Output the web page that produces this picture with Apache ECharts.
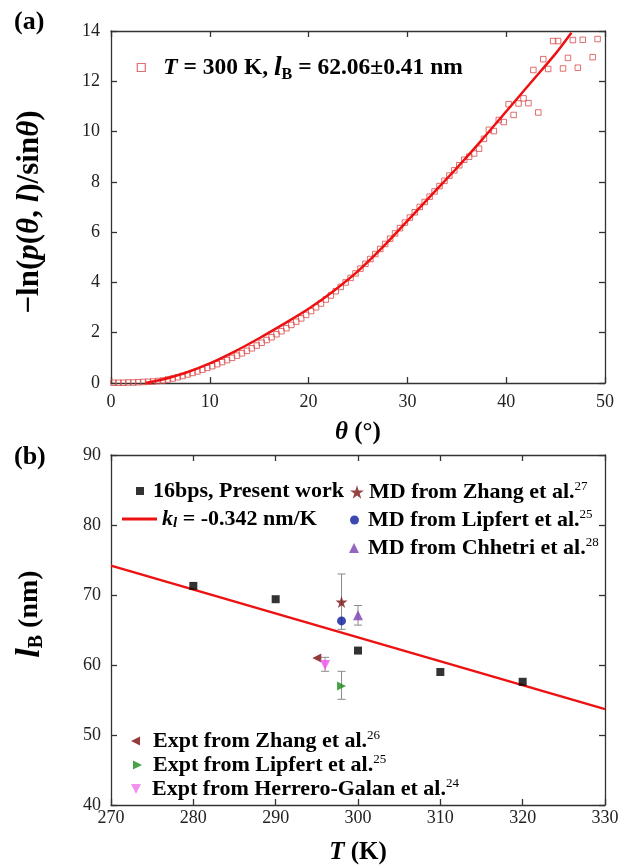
<!DOCTYPE html>
<html><head><meta charset="utf-8">
<script src="https://cdn.jsdelivr.net/npm/echarts@6/dist/echarts.min.js"></script>
<style>html,body{margin:0;padding:0;background:#fff}#c{width:621px;height:866px}</style>
</head><body><div id="c"></div>
<script>
// ---------- Panel (a) data ----------
const thetaA = [0.25,0.75,1.25,1.75,2.25,2.75,3.25,3.75,4.25,4.75,5.25,5.75,6.25,6.75,7.25,7.75,8.25,8.75,9.25,9.75,
  10.25,10.75,11.25,11.75,12.25,12.75,13.25,13.75,14.25,14.75,15.25,15.75,16.25,16.75,17.25,17.75,18.25,18.75,19.25,19.75,
  20.25,20.75,21.25,21.75,22.25,22.75,23.25,23.75,24.25,24.75,25.25,25.75,26.25,26.75,27.25,27.75,28.25,28.75,29.25,29.75,
  30.25,30.75,31.25,31.75,32.25,32.75,33.25,33.75,34.25,34.75,35.25,35.75,36.25,36.75,37.25,37.75,38.25,38.75,39.25,39.75,
  40.25,40.75,41.25,41.75,42.25,42.75,43.25,43.75,44.25,44.75,45.25,45.75,46.25,46.75,47.25,47.75,48.75,49.25];
const lnA = [0.01,0.01,0.01,0.02,0.02,0.03,0.04,0.05,0.06,0.08,0.10,0.14,0.18,0.23,0.28,0.34,0.40,0.46,0.53,0.60,
  0.67,0.75,0.83,0.91,1.00,1.09,1.18,1.28,1.38,1.49,1.60,1.71,1.82,1.94,2.06,2.18,2.31,2.44,2.57,2.71,
  2.86,3.01,3.16,3.32,3.48,3.65,3.82,4.00,4.18,4.36,4.55,4.74,4.93,5.13,5.33,5.53,5.74,5.95,6.16,6.38,
  6.58,6.79,7.00,7.20,7.41,7.62,7.83,8.04,8.25,8.46,8.66,8.88,9.00,9.13,9.32,9.71,10.07,10.02,10.46,10.38,
  11.09,10.66,11.12,11.32,11.13,12.45,10.76,12.88,12.49,13.60,13.60,12.51,12.93,13.64,12.54,13.65,12.96,13.68];
const fitThetaA = [3.5,5,7.5,10,12.5,15,17.5,20,22.5,25,27.5,30,32.5,35,37.5,40,42.5,45,46.6];
const fitValueA = [0,0.12,0.40,0.78,1.25,1.78,2.35,2.95,3.65,4.45,5.40,6.45,7.50,8.55,9.65,10.80,11.95,13.10,13.93];

// ---------- Panel (b) data ----------
const presentT = [280,290,300,310,320];
const presentLB = [71.3,69.4,62.06,59.0,57.6];
const fitLineT = [270,330];
const fitLineLB = [74.2,53.7];
const mdZhang = [[298,69.0]];
const mdLipfert = [[298,66.3]];
const mdChhetri = [[300,67.1]];
const exZhang = [[295,61.0]];
const exLipfert = [[298,57.0]];
const exHerrero = [[296,60.0]];
const errT = [298,300,298,296];
const errLow = [65.1,65.7,55.1,59.1];
const errHigh = [73.0,68.5,59.1,61.1];

const xTicksA = [0,50,10];
const yTicksA = [0,14,2];
const xTicksB = [270,330,10];
const yTicksB = [40,90,10];

const SERIF = 'Liberation Serif, Times New Roman, serif';
const zip = (a,b)=>a.map((v,i)=>[v,b[i]]);

const STAR = 'path://M50,0 L61.17,34.63 L97.55,34.55 L68.07,55.87 L79.39,90.45 L50,69 L20.61,90.45 L31.93,55.87 L2.45,34.55 L38.83,34.63 Z';
const TRI_UP = 'path://M5,0L10,10L0,10Z';
const TRI_LEFT = 'path://M0,5L10,0L10,10Z';
const TRI_RIGHT = 'path://M10,5L0,0L0,10Z';
const TRI_DOWN = 'path://M0,0L10,0L5,10Z';

const C = {
  sq:'#d84a4a', fit:'#ee1111', star:'#7a1515', circ:'#0d1a9c', purp:'#7b40b0',
  lt:'#7a0c0c', green:'#1b8a1b', mag:'#f050f0'
};

const axisLineStyle = {color:'#333', width:1.3};
function mkAxis(type, grid, range, pos, showLabel, margin){
  return {
    type:'value', gridIndex:grid, position:pos, min:range[0], max:range[1], interval:range[2],
    axisLine:{show:true, onZero:false, lineStyle:axisLineStyle},
    axisTick:{show:true, inside:true, length:6, lineStyle:axisLineStyle},
    axisLabel:{show:showLabel, fontFamily:SERIF, fontSize:18, color:'#222', margin:margin},
    splitLine:{show:false}
  };
}

const base = {fontFamily:SERIF, fontWeight:'bold', color:'#000'};
function rich(main, lh, big){
  return {
    n: Object.assign({}, base, {fontSize:main, lineHeight:lh}),
    i: Object.assign({}, base, {fontSize:main, lineHeight:lh, fontStyle:'italic'}),
    il: Object.assign({}, base, {fontSize:main+(big||4), lineHeight:lh, fontStyle:'italic'}),
    sub: Object.assign({}, base, {fontSize:Math.round(main*0.7), lineHeight:14, verticalAlign:'bottom'}),
    isub: Object.assign({}, base, {fontSize:Math.round(main*0.7), lineHeight:14, verticalAlign:'bottom', fontStyle:'italic'}),
    sup: Object.assign({}, base, {fontSize:Math.round(main*0.6), lineHeight:12, verticalAlign:'top', fontWeight:'normal'})
  };
}
const labelMap = {
  topA: '{i|T}{n| = 300 K, }{il|l}{sub|B}{n| = 62.06±0.41 nm}',
  present: '{n|16bps, Present work}',
  fitb: '{i|k}{isub|l}{n| = -0.342 nm/K}',
  mdz: '{n|MD from Zhang et al.}{sup|27}',
  mdl: '{n|MD from Lipfert et al.}{sup|25}',
  mdc: '{n|MD from Chhetri et al.}{sup|28}',
  exz: '{n|Expt from Zhang et al.}{sup|26}',
  exl: '{n|Expt from Lipfert et al.}{sup|25}',
  exh: '{n|Expt from Herrero-Galan et al.}{sup|24}'
};
function leg(name, left, top, w, h, icon, itemStyle, padLeft, fs, lh){
  return {
    data:[{name:name, icon:icon}], left:left, top:top, padding:0, itemGap:0,
    itemWidth:w, itemHeight:h, selectedMode:false,
    itemStyle:itemStyle,
    formatter:(n)=>labelMap[n],
    textStyle:{padding:[0,0,0,padLeft], rich:rich(fs, lh)}
  };
}

const option = {
  animation:false,
  backgroundColor:'#fff',
  grid:[
    {left:111, top:31, width:494, height:352, outerBoundsMode:'none', containLabel:false},
    {left:111, top:455, width:494, height:350, outerBoundsMode:'none', containLabel:false}
  ],
  xAxis:[
    mkAxis('x',0,xTicksA,'bottom',true,10),
    mkAxis('x',0,xTicksA,'top',false,8),
    mkAxis('x',1,xTicksB,'bottom',true,4),
    mkAxis('x',1,xTicksB,'top',false,8)
  ],
  yAxis:[
    mkAxis('y',0,yTicksA,'left',true,11),
    mkAxis('y',0,yTicksA,'right',false,8),
    mkAxis('y',1,yTicksB,'left',true,10),
    mkAxis('y',1,yTicksB,'right',false,8)
  ],
  legend:[
    leg('topA',136.7,54,8,8,'rect',{color:'#fff',borderColor:C.sq,borderWidth:1.2},13,23.5,30),
    leg('present',136,480,8,8,'rect',{color:'#000'},4,22,24),
    leg('fitb',122,508,35,3,'rect',{color:C.fit},0,22,24),
    leg('mdz',350,480,14,14,STAR,{color:C.star},0,22,24),
    leg('mdl',350,508,9,9,'circle',{color:C.circ},4,22,24),
    leg('mdc',349,536,10,10,TRI_UP,{color:C.purp},4,22,24),
    leg('exz',131,729,9,9,TRI_LEFT,{color:C.lt},8,22,24),
    leg('exl',133,753,9,9,TRI_RIGHT,{color:C.green},6,22,24),
    leg('exh',131,777,10,10,TRI_DOWN,{color:'#ee77ee'},6,22,24)
  ],
  graphic:[
    {type:'text', left:14, top:9, style:{text:'(a)', font:'bold 26px '+SERIF, fill:'#000'}},
    {type:'text', left:14, top:444, style:{text:'(b)', font:'bold 26px '+SERIF, fill:'#000'}},
    {type:'text', x:358, y:433, style:{text:'{i|θ}{n| (°)}', align:'center', verticalAlign:'middle', rich:rich(25,30)}},
    {type:'text', x:358, y:853, style:{text:'{i|T}{n| (K)}', align:'center', verticalAlign:'middle', rich:rich(25,30)}},
    {type:'text', x:30, y:212, rotation:Math.PI/2, style:{text:'{n|−ln(}{i|p}{n|(}{i|θ}{n|, }{i|l}{n|)/sin}{i|θ}{n|)}', align:'center', verticalAlign:'middle', rich:rich(31,36)}},
    {type:'text', x:30, y:614, rotation:Math.PI/2, style:{text:'{il|l}{sub|B}{n| (nm)}', align:'center', verticalAlign:'middle', rich:rich(28,34,6)}}
  ],
  series:[
    {name:'topA', type:'scatter', xAxisIndex:0, yAxisIndex:0, data:zip(thetaA,lnA),
      symbol:'rect', symbolSize:5.5, itemStyle:{color:'rgba(255,255,255,0)', borderColor:C.sq, borderWidth:1}, z:2},
    {name:'fitA', type:'line', xAxisIndex:0, yAxisIndex:0, data:zip(fitThetaA,fitValueA), smooth:0.3,
      showSymbol:false, symbol:'none', lineStyle:{color:C.fit, width:2.5}, z:3},
    {name:'fitb', type:'line', xAxisIndex:2, yAxisIndex:2, data:zip(fitLineT,fitLineLB),
      showSymbol:false, symbol:'none', lineStyle:{color:C.fit, width:2.5}, z:2},
    {name:'errs', type:'custom', xAxisIndex:2, yAxisIndex:2, z:1,
      data: errT.map((t,i)=>[t,errLow[i],errHigh[i]]),
      renderItem:(params, api)=>{
        const p1 = api.coord([api.value(0), api.value(1)]);
        const p2 = api.coord([api.value(0), api.value(2)]);
        const w = 4, st = {stroke:'#8a8a8a', lineWidth:1};
        return {type:'group', children:[
          {type:'line', shape:{x1:p1[0],y1:p1[1],x2:p2[0],y2:p2[1]}, style:st},
          {type:'line', shape:{x1:p1[0]-w,y1:p1[1],x2:p1[0]+w,y2:p1[1]}, style:st},
          {type:'line', shape:{x1:p2[0]-w,y1:p2[1],x2:p2[0]+w,y2:p2[1]}, style:st}
        ]};
      }},
    {name:'present', type:'scatter', xAxisIndex:2, yAxisIndex:2, data:zip(presentT,presentLB),
      symbol:'rect', symbolSize:8, itemStyle:{color:'#000'}, z:3},
    {name:'mdz', type:'scatter', xAxisIndex:2, yAxisIndex:2, data:mdZhang, symbol:STAR, symbolSize:12, itemStyle:{color:C.star}, z:4},
    {name:'mdl', type:'scatter', xAxisIndex:2, yAxisIndex:2, data:mdLipfert, symbol:'circle', symbolSize:9, itemStyle:{color:C.circ}, z:4},
    {name:'mdc', type:'scatter', xAxisIndex:2, yAxisIndex:2, data:mdChhetri, symbol:TRI_UP, symbolSize:10, itemStyle:{color:C.purp}, z:4},
    {name:'exz', type:'scatter', xAxisIndex:2, yAxisIndex:2, data:exZhang, symbol:TRI_LEFT, symbolSize:9, itemStyle:{color:C.lt}, z:4},
    {name:'exl', type:'scatter', xAxisIndex:2, yAxisIndex:2, data:exLipfert, symbol:TRI_RIGHT, symbolSize:9, itemStyle:{color:C.green}, z:4},
    {name:'exh', type:'scatter', xAxisIndex:2, yAxisIndex:2, data:exHerrero, symbol:TRI_DOWN, symbolSize:10, itemStyle:{color:C.mag}, z:4}
  ]
};
const chart = echarts.init(document.getElementById('c'), null, {renderer:'canvas'});
chart.setOption(option);
</script></body></html>
